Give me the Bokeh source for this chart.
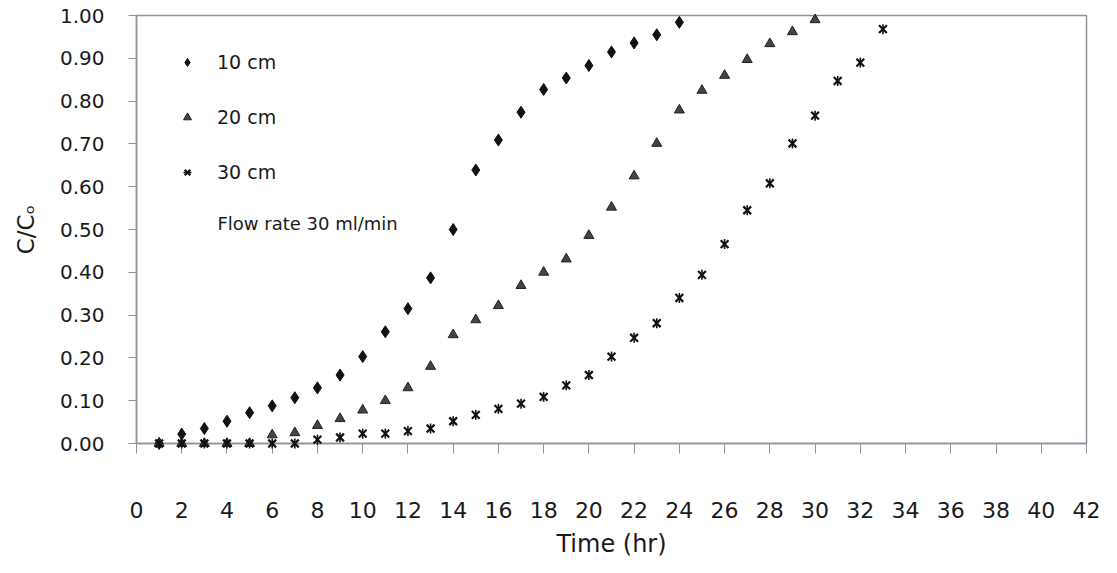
from bokeh.plotting import figure
from bokeh.models import FixedTicker, NumeralTickFormatter, Legend, LegendItem, Label, Range1d
from bokeh.embed import file_html
from bokeh.resources import INLINE
import math

# ---- data ----
time_10 = list(range(1, 25))
conc_10 = [0.0, 0.022, 0.035, 0.052, 0.072, 0.088, 0.107, 0.13, 0.16, 0.203, 0.261, 0.315,
           0.387, 0.50, 0.639, 0.709, 0.774, 0.827, 0.854, 0.883, 0.915, 0.936, 0.955, 0.984]

time_20 = list(range(1, 31))
conc_20 = [0.0, 0.0, 0.0, 0.0, 0.0, 0.02, 0.025, 0.042, 0.058, 0.078, 0.10, 0.13,
           0.18, 0.254, 0.289, 0.322, 0.369, 0.40, 0.431, 0.486, 0.552, 0.625, 0.701, 0.779,
           0.825, 0.86, 0.897, 0.934, 0.962, 0.99]

time_30 = list(range(1, 34))
conc_30 = [0.0, 0.0, 0.0, 0.0, 0.0, 0.0, 0.0, 0.009, 0.014, 0.023, 0.023, 0.029,
           0.035, 0.052, 0.067, 0.081, 0.093, 0.109, 0.136, 0.16, 0.203, 0.247, 0.281, 0.34,
           0.394, 0.466, 0.545, 0.608, 0.701, 0.766, 0.847, 0.89, 0.968]

series_labels = ["10 cm", "20 cm", "30 cm"]
note_text = "Flow rate 30 ml/min"
x_ticks = list(range(0, 43, 2))
y_ticks = [round(0.1 * i, 1) for i in range(11)]
x_title = "Time (hr)"
y_title = "C/C\u2092"

FONT = "DejaVu Sans"
TXT = "#1a1a1a"
FRAME = "#8c939c"

p = figure(width=1117, height=573, output_backend="svg", toolbar_location=None,
           x_range=Range1d(0, 42), y_range=Range1d(0, 1.0),
           min_border_left=136, min_border_right=31, min_border_top=15, min_border_bottom=130)
p.background_fill_color = "white"
p.border_fill_color = "white"
p.outline_line_color = FRAME
p.outline_line_width = 1.5
p.xgrid.visible = False
p.ygrid.visible = False

r10 = p.scatter(time_10, conc_10, marker="diamond", size=12,
                fill_color="#111111", line_color="#111111", level="overlay")
r20 = p.scatter(time_20, conc_20, marker="triangle", size=10,
                fill_color="#444444", line_color="#222222", line_width=1, level="overlay")
r30a = p.scatter(time_30, conc_30, marker="x", size=11, line_color="#111111",
                 line_width=2.2, level="overlay")
r30b = p.scatter(time_30, conc_30, marker="dash", angle=math.pi / 2, size=10,
                 line_color="#111111", line_width=1.6, level="overlay")

# axes
xa = p.xaxis[0]
xa.ticker = FixedTicker(ticks=x_ticks)
xa.axis_line_color = FRAME
xa.axis_line_width = 1.5
xa.major_tick_line_color = FRAME
xa.major_tick_out = 10
xa.major_tick_in = 0
xa.minor_tick_line_color = None
xa.major_label_standoff = 48
xa.major_label_text_font = FONT
xa.major_label_text_font_size = "22px"
xa.major_label_text_color = TXT
xa.axis_label = x_title
xa.axis_label_text_font = FONT
xa.axis_label_text_font_size = "24px"
xa.axis_label_text_font_style = "normal"
xa.axis_label_text_color = TXT
xa.axis_label_standoff = 9

ya = p.yaxis[0]
ya.ticker = FixedTicker(ticks=y_ticks)
ya.formatter = NumeralTickFormatter(format="0.00")
ya.axis_line_color = FRAME
ya.axis_line_width = 1.5
ya.major_tick_line_color = FRAME
ya.major_tick_out = 8
ya.major_tick_in = 0
ya.minor_tick_line_color = None
ya.major_label_standoff = 24
ya.major_label_text_font = FONT
ya.major_label_text_font_size = "20px"
ya.major_label_text_color = TXT
ya.axis_label = y_title
ya.axis_label_text_font = FONT
ya.axis_label_text_font_size = "23px"
ya.axis_label_text_font_style = "normal"
ya.axis_label_text_color = TXT
ya.axis_label_standoff = 18

legend = Legend(items=[LegendItem(label=series_labels[0], renderers=[r10]),
                       LegendItem(label=series_labels[1], renderers=[r20]),
                       LegendItem(label=series_labels[2], renderers=[r30a, r30b])],
                location=(41, 260), padding=0, margin=0, spacing=33,
                glyph_width=20, glyph_height=20, label_height=20, label_standoff=20,
                label_text_font=FONT, label_text_font_size="19px", label_text_color=TXT,
                border_line_color=None, background_fill_alpha=0)
p.add_layout(legend)

p.add_layout(Label(x=3.58, y=0.514, text=note_text, text_font=FONT,
                   text_font_size="18px", text_color=TXT, text_baseline="middle"))

open("out.html", "w").write(file_html(p, INLINE))
